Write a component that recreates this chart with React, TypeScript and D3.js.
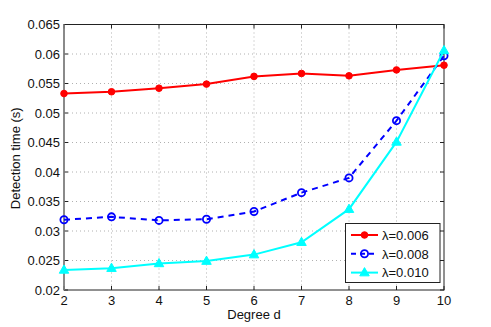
import React from "react";
import * as d3 from "d3";

const degrees = [2, 3, 4, 5, 6, 7, 8, 9, 10];
const series006 = [0.0533, 0.0536, 0.0542, 0.0549, 0.0562, 0.0567, 0.0563, 0.0573, 0.0581];
const series008 = [0.0319, 0.0324, 0.0318, 0.0320, 0.0333, 0.0365, 0.0390, 0.0487, 0.0597];
const series010 = [0.0234, 0.0237, 0.0245, 0.0249, 0.0260, 0.0281, 0.0337, 0.0451, 0.0606];
const yTicks = [0.02, 0.025, 0.03, 0.035, 0.04, 0.045, 0.05, 0.055, 0.06, 0.065];
const yTickLabels = ["0.02", "0.025", "0.03", "0.035", "0.04", "0.045", "0.05", "0.055", "0.06", "0.065"];
const legendLabels = ["λ=0.006", "λ=0.008", "λ=0.010"];

const W = 491, H = 327;
const L = 64, R = 444, T = 24.5, B = 290;
const font = "Liberation Sans, Arial, sans-serif";
const FS = 13;

export default function App() {
  const x = d3.scaleLinear().domain([2, 10]).range([L, R]);
  const y = d3.scaleLinear().domain([0.02, 0.065]).range([B, T]);
  const line = d3.line<number>().x((_, i) => x(degrees[i])).y((v) => y(v));
  const series = [
    { data: series006, color: "#ff0000", dash: undefined as string | undefined, marker: "dot" },
    { data: series008, color: "#0000ff", dash: "6,5", marker: "circle" },
    { data: series010, color: "#00ffff", dash: undefined, marker: "tri" },
  ];
  const marker = (m: string, cx: number, cy: number, color: string, k: string) => {
    if (m === "dot") return <circle key={k} cx={cx} cy={cy} r={3.3} fill={color} stroke={color} />;
    if (m === "circle") return <circle key={k} cx={cx} cy={cy} r={3.6} fill="none" stroke={color} strokeWidth={1.8} />;
    const s = 5;
    return (
      <path key={k} d={`M${cx},${cy - s}L${cx + s * 0.95},${cy + s * 0.65}L${cx - s * 0.95},${cy + s * 0.65}Z`} fill={color} stroke={color} strokeWidth={1} />
    );
  };
  const lx = 345.5, ly = 223.5, lw = 94.5, lh = 59;
  return (
    <svg width={W} height={H} style={{ position: "absolute", left: 0, top: 0, background: "#fff" }}>
      <rect x={0} y={0} width={W} height={H} fill="#fff" />
      {/* grid */}
      {degrees.slice(1, -1).map((d) => (
        <line key={"gx" + d} x1={x(d)} x2={x(d)} y1={T} y2={B} stroke="#b0b0b0" strokeWidth={1} strokeDasharray="1,3" />
      ))}
      {yTicks.slice(1, -1).map((v) => (
        <line key={"gy" + v} x1={L} x2={R} y1={y(v)} y2={y(v)} stroke="#b0b0b0" strokeWidth={1} strokeDasharray="1,3" />
      ))}
      {/* ticks */}
      {degrees.map((d) => (
        <g key={"tx" + d}>
          <line x1={x(d)} x2={x(d)} y1={B} y2={B - 4} stroke="#222" />
          <line x1={x(d)} x2={x(d)} y1={T} y2={T + 4} stroke="#222" />
          <text x={x(d)} y={B + 15} fontSize={FS} fontFamily={font} textAnchor="middle" fill="#111">{d}</text>
        </g>
      ))}
      {yTicks.map((v, i) => (
        <g key={"ty" + v}>
          <line x1={L} x2={L + 4} y1={y(v)} y2={y(v)} stroke="#222" />
          <line x1={R} x2={R - 4} y1={y(v)} y2={y(v)} stroke="#222" />
          <text x={L - 4} y={y(v) + 4.5} fontSize={FS} fontFamily={font} textAnchor="end" fill="#111">{yTickLabels[i]}</text>
        </g>
      ))}
      {/* frame */}
      <rect x={L} y={T} width={R - L} height={B - T} fill="none" stroke="#222" strokeWidth={1} />
      <line x1={L} x2={L} y1={T} y2={B} stroke="#888" strokeWidth={1.5} />
      {/* series */}
      {series.map((s, si) => (
        <g key={"s" + si}>
          <path d={line(s.data) || ""} fill="none" stroke={s.color} strokeWidth={2} strokeDasharray={s.dash} />
          {s.data.map((v, i) => marker(s.marker, x(degrees[i]), y(v), s.color, `m${si}-${i}`))}
        </g>
      ))}
      {/* legend */}
      <rect x={lx} y={ly} width={lw} height={lh} fill="#fff" stroke="#222" strokeWidth={1} />
      {series.map((s, i) => {
        const yy = ly + 11.5 + i * 18.8;
        return (
          <g key={"lg" + i}>
            <line x1={lx + 5.5} x2={lx + 32.5} y1={yy} y2={yy} stroke={s.color} strokeWidth={2} strokeDasharray={s.dash ? "5,4" : undefined} />
            {marker(s.marker, lx + 19, yy, s.color, "lm" + i)}
            <text x={lx + 36.5} y={yy + 4.7} fontSize={FS} fontFamily={font} fill="#111">{legendLabels[i]}</text>
          </g>
        );
      })}
      {/* axis labels */}
      <text x={(L + R) / 2} y={B + 28.5} fontSize={FS} fontFamily={font} textAnchor="middle" fill="#111">Degree d</text>
      <text transform={`translate(20,${(T + B) / 2 + 1}) rotate(-90)`} fontSize={FS} fontFamily={font} textAnchor="middle" fill="#111">Detection time (s)</text>
    </svg>
  );
}
